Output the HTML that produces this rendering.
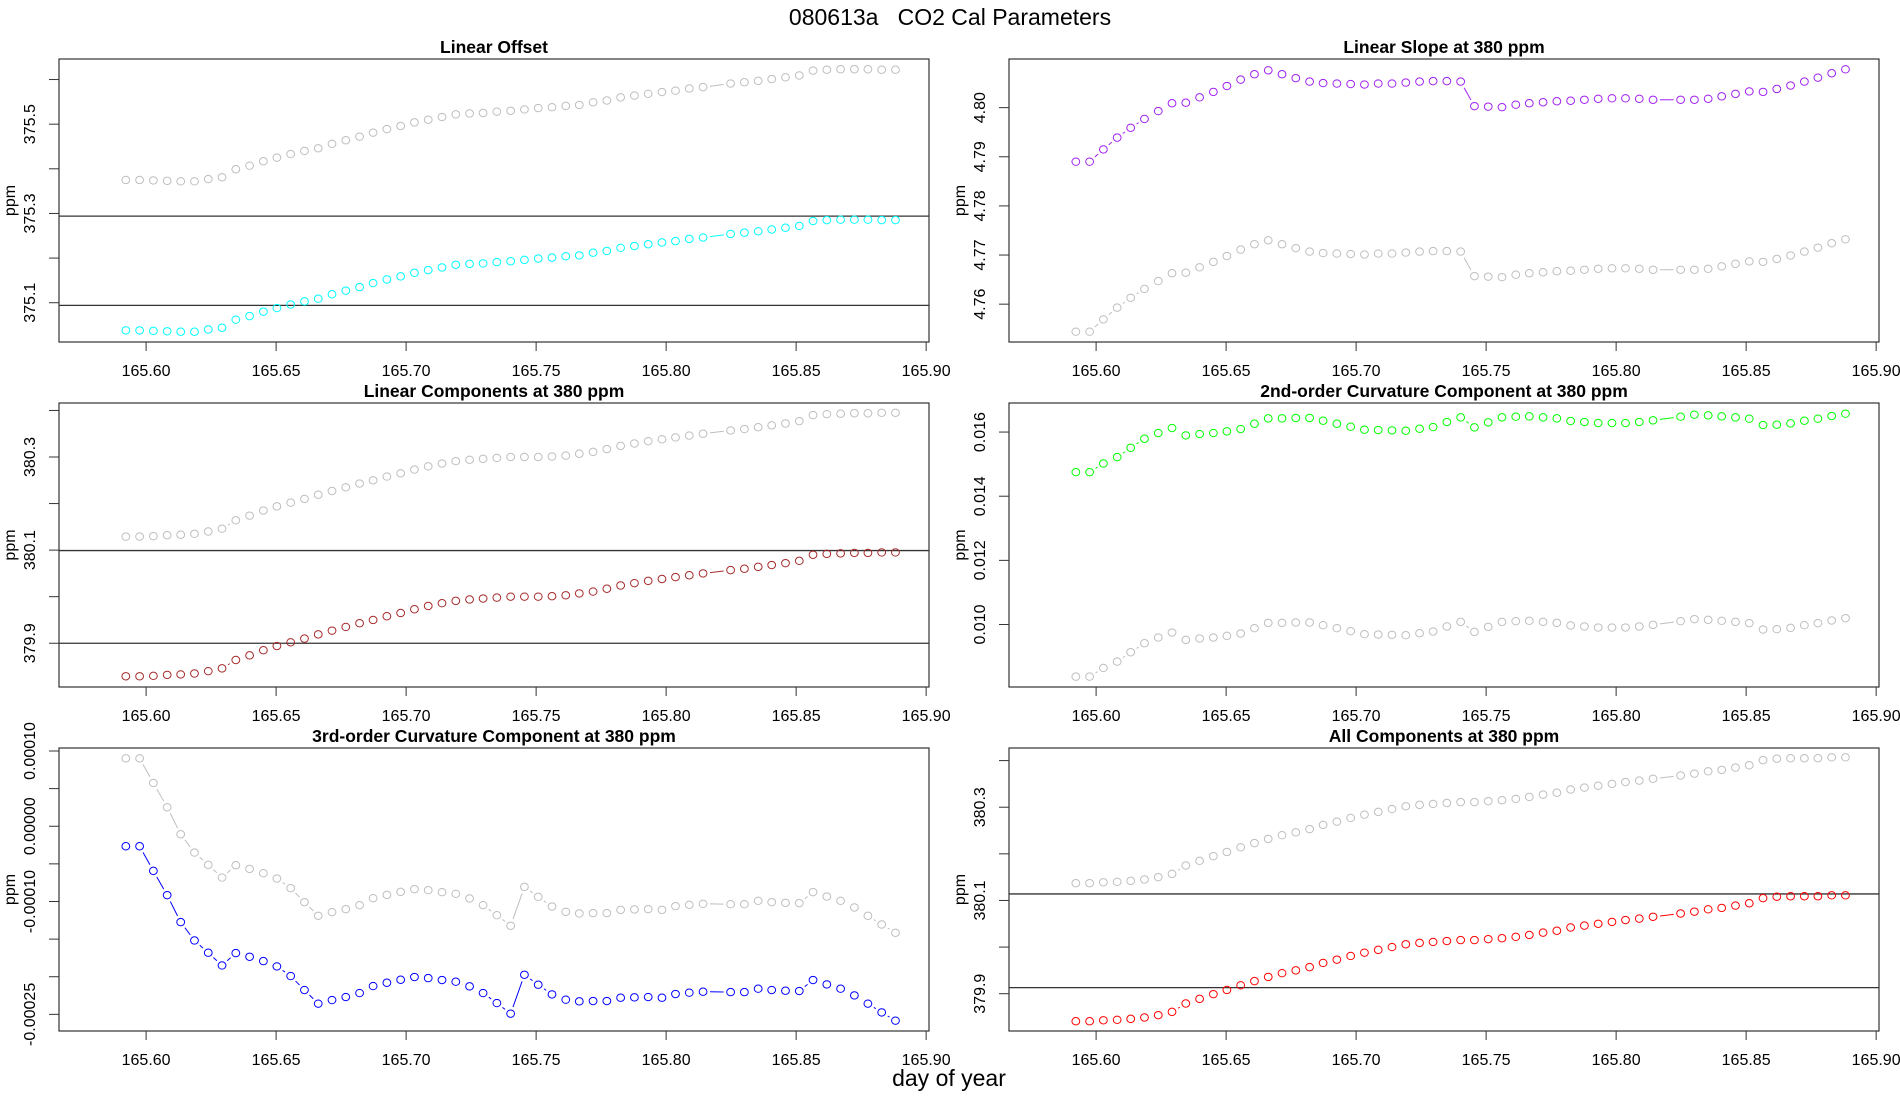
<!DOCTYPE html>
<html><head><meta charset="utf-8"><title>080613a CO2 Cal Parameters</title>
<style>html,body{margin:0;padding:0;background:#fff;}svg{display:block;font-family:"Liberation Sans",Arial,sans-serif;}</style>
</head><body>
<svg id="chart" width="1900" height="1100" viewBox="0 0 1900 1100" xmlns="http://www.w3.org/2000/svg">
<rect width="1900" height="1100" fill="#fff"/>
<text x="950" y="25" text-anchor="middle" font-size="23" xml:space="preserve">080613a   CO2 Cal Parameters</text>
<text x="949" y="1086" text-anchor="middle" font-size="23">day of year</text>
</svg>
<script>
const times = [165.5922,165.5975,165.6028,165.6081,165.6133,165.6186,165.6239,165.6292,165.6345,165.6398,165.6451,165.6503,165.6556,165.6609,165.6662,165.6715,165.6768,165.6821,165.6873,165.6926,165.6979,165.7032,165.7085,165.7138,165.7191,165.7244,165.7296,165.7349,165.7402,165.7455,165.7508,165.7561,165.7614,165.7666,165.7719,165.7772,165.7825,165.7878,165.7931,165.7984,165.8036,165.8089,165.8142,165.8248,165.8301,165.8354,165.8406,165.8459,165.8512,165.8565,165.8618,165.8671,165.8724,165.8776,165.8829,165.8882];
const xTicks = [165.60,165.65,165.70,165.75,165.80,165.85,165.90];
const xTickLabels = ["165.60","165.65","165.70","165.75","165.80","165.85","165.90"];

const offsetGray = [375.375,375.375,375.374,375.373,375.372,375.372,375.377,375.381,375.399,375.407,375.417,375.425,375.433,375.440,375.446,375.456,375.464,375.472,375.481,375.489,375.496,375.504,375.510,375.516,375.522,375.524,375.525,375.528,375.530,375.533,375.536,375.538,375.541,375.543,375.549,375.553,375.560,375.564,375.568,375.572,375.575,375.580,375.583,375.591,375.594,375.597,375.601,375.605,375.609,375.620,375.622,375.623,375.623,375.623,375.622,375.622];
const offsetValues = [375.038,375.038,375.037,375.036,375.035,375.035,375.040,375.044,375.062,375.070,375.080,375.088,375.096,375.103,375.109,375.119,375.127,375.135,375.144,375.152,375.159,375.167,375.173,375.179,375.185,375.187,375.188,375.191,375.193,375.196,375.199,375.201,375.204,375.206,375.212,375.216,375.223,375.227,375.231,375.235,375.238,375.243,375.246,375.254,375.257,375.260,375.264,375.268,375.272,375.283,375.285,375.286,375.286,375.286,375.285,375.285];
const offsetTicks = [375.1,375.2,375.3,375.4,375.5,375.6];
const offsetTickLabels = ["375.1","","375.3","","375.5",""];
const offsetRefLines = [375.294,375.094];

const slopeValues = [4.7890,4.7890,4.7915,4.7939,4.7959,4.7977,4.7993,4.8009,4.8010,4.8021,4.8032,4.8044,4.8057,4.8068,4.8076,4.8068,4.8060,4.8053,4.8050,4.8049,4.8048,4.8047,4.8049,4.8049,4.8051,4.8053,4.8054,4.8054,4.8053,4.8003,4.8002,4.8001,4.8006,4.8009,4.8011,4.8013,4.8014,4.8016,4.8018,4.8019,4.8019,4.8018,4.8016,4.8016,4.8016,4.8018,4.8023,4.8028,4.8033,4.8032,4.8038,4.8045,4.8053,4.8061,4.8070,4.8078];
const slopeGray = [4.7544,4.7544,4.7569,4.7593,4.7613,4.7631,4.7647,4.7663,4.7664,4.7675,4.7686,4.7698,4.7711,4.7722,4.7730,4.7722,4.7714,4.7707,4.7704,4.7703,4.7702,4.7701,4.7703,4.7703,4.7705,4.7707,4.7708,4.7708,4.7707,4.7657,4.7656,4.7655,4.7660,4.7663,4.7665,4.7667,4.7668,4.7670,4.7672,4.7673,4.7673,4.7672,4.7670,4.7670,4.7670,4.7672,4.7677,4.7682,4.7687,4.7686,4.7692,4.7699,4.7707,4.7715,4.7724,4.7732];
const slopeTicks = [4.76,4.77,4.78,4.79,4.80];
const slopeTickLabels = ["4.76","4.77","4.78","4.79","4.80"];

const linCompValues = [379.829,379.829,379.830,379.832,379.833,379.835,379.840,379.846,379.864,379.874,379.885,379.894,379.902,379.910,379.919,379.927,379.935,379.943,379.950,379.958,379.965,379.973,379.980,379.986,379.991,379.994,379.996,379.998,380.000,380.000,380.000,380.001,380.003,380.007,380.011,380.017,380.024,380.029,380.034,380.038,380.042,380.046,380.050,380.057,380.060,380.064,380.068,380.072,380.077,380.090,380.092,380.093,380.094,380.094,380.095,380.095];
const linCompGray = [380.129,380.129,380.130,380.132,380.133,380.135,380.140,380.146,380.164,380.174,380.185,380.194,380.202,380.210,380.219,380.227,380.235,380.243,380.250,380.258,380.265,380.273,380.280,380.286,380.291,380.294,380.296,380.298,380.300,380.300,380.300,380.301,380.303,380.307,380.311,380.317,380.324,380.329,380.334,380.338,380.342,380.346,380.350,380.357,380.360,380.364,380.368,380.372,380.377,380.390,380.392,380.393,380.394,380.394,380.395,380.395];
const linCompTicks = [379.9,380.0,380.1,380.2,380.3,380.4];
const linCompTickLabels = ["379.9","","380.1","","380.3",""];
const linCompRefLines = [380.099,379.9];

const curv2Values = [0.014750,0.014750,0.015021,0.015219,0.015510,0.015792,0.015969,0.016125,0.015896,0.015938,0.015969,0.016021,0.016094,0.016260,0.016427,0.016427,0.016438,0.016438,0.016354,0.016260,0.016167,0.016073,0.016063,0.016052,0.016042,0.016104,0.016156,0.016313,0.016458,0.016146,0.016302,0.016458,0.016479,0.016490,0.016458,0.016427,0.016344,0.016313,0.016281,0.016281,0.016281,0.016313,0.016365,0.016479,0.016542,0.016521,0.016490,0.016458,0.016417,0.016219,0.016229,0.016271,0.016354,0.016417,0.016500,0.016573];
const curv2Gray = [0.008375,0.008375,0.008646,0.008844,0.009135,0.009417,0.009594,0.009750,0.009521,0.009563,0.009594,0.009646,0.009719,0.009885,0.010052,0.010052,0.010063,0.010063,0.009979,0.009885,0.009792,0.009698,0.009688,0.009677,0.009667,0.009729,0.009781,0.009938,0.010083,0.009771,0.009927,0.010083,0.010104,0.010115,0.010083,0.010052,0.009969,0.009938,0.009906,0.009906,0.009906,0.009938,0.009990,0.010104,0.010167,0.010146,0.010115,0.010083,0.010042,0.009844,0.009854,0.009896,0.009979,0.010042,0.010125,0.010198];
const curv2Ticks = [0.010,0.012,0.014,0.016];
const curv2TickLabels = ["0.010","0.012","0.014","0.016"];

const curv3Values = [-2.66e-5,-2.66e-5,-5.93e-5,-9.16e-5,-12.74e-5,-15.18e-5,-16.81e-5,-18.50e-5,-16.86e-5,-17.35e-5,-17.92e-5,-18.63e-5,-19.91e-5,-21.77e-5,-23.58e-5,-23.10e-5,-22.70e-5,-22.17e-5,-21.24e-5,-20.80e-5,-20.40e-5,-20.04e-5,-20.18e-5,-20.44e-5,-20.66e-5,-21.28e-5,-22.17e-5,-23.50e-5,-24.91e-5,-19.74e-5,-21.06e-5,-22.35e-5,-23.05e-5,-23.27e-5,-23.23e-5,-23.23e-5,-22.79e-5,-22.74e-5,-22.70e-5,-22.79e-5,-22.30e-5,-22.12e-5,-21.99e-5,-22.04e-5,-22.04e-5,-21.59e-5,-21.77e-5,-21.86e-5,-21.90e-5,-20.44e-5,-21.02e-5,-21.59e-5,-22.48e-5,-23.58e-5,-24.74e-5,-25.84e-5];
const curv3Gray = [9.02e-5,9.02e-5,5.75e-5,2.52e-5,-1.06e-5,-3.50e-5,-5.13e-5,-6.82e-5,-5.18e-5,-5.67e-5,-6.24e-5,-6.95e-5,-8.23e-5,-10.09e-5,-11.90e-5,-11.42e-5,-11.02e-5,-10.49e-5,-9.56e-5,-9.12e-5,-8.72e-5,-8.36e-5,-8.50e-5,-8.76e-5,-8.98e-5,-9.60e-5,-10.49e-5,-11.82e-5,-13.23e-5,-8.06e-5,-9.38e-5,-10.67e-5,-11.37e-5,-11.59e-5,-11.55e-5,-11.55e-5,-11.11e-5,-11.06e-5,-11.02e-5,-11.11e-5,-10.62e-5,-10.44e-5,-10.31e-5,-10.36e-5,-10.36e-5,-9.91e-5,-10.09e-5,-10.18e-5,-10.22e-5,-8.76e-5,-9.34e-5,-9.91e-5,-10.80e-5,-11.90e-5,-13.06e-5,-14.16e-5];
const curv3Ticks = [-0.00025,-0.00020,-0.00015,-0.00010,-0.00005,0,0.00005,0.00010];
const curv3TickLabels = ["-0.00025","","","-0.00010","","0.00000","","0.00010"];

const allValues = [379.841,379.841,379.843,379.844,379.846,379.849,379.854,379.861,379.879,379.889,379.899,379.908,379.918,379.927,379.936,379.944,379.950,379.957,379.966,379.973,379.981,379.988,379.994,380.000,380.006,380.009,380.011,380.013,380.015,380.015,380.017,380.019,380.022,380.026,380.031,380.035,380.042,380.046,380.050,380.054,380.058,380.061,380.065,380.072,380.076,380.081,380.084,380.089,380.094,380.105,380.108,380.109,380.109,380.109,380.111,380.111];
const allGray = [380.137,380.137,380.139,380.140,380.142,380.145,380.150,380.157,380.175,380.185,380.195,380.204,380.214,380.223,380.232,380.240,380.246,380.253,380.262,380.269,380.277,380.284,380.290,380.296,380.302,380.305,380.307,380.309,380.311,380.311,380.313,380.315,380.318,380.322,380.327,380.331,380.338,380.342,380.346,380.350,380.354,380.357,380.361,380.368,380.372,380.377,380.380,380.385,380.390,380.401,380.404,380.405,380.405,380.405,380.407,380.407];
const allTicks = [379.9,380.0,380.1,380.2,380.3,380.4];
const allTickLabels = ["379.9","","380.1","","380.3",""];
const allRefLines = [380.114,379.913];

const panels = [
 {name:'linear-offset', title:'Linear Offset', left:59, top:59, bottom:342, ymin:375.012, ymax:375.646, gray:offsetGray, vals:offsetValues, color:'#00ffff', ticks:offsetTicks, labels:offsetTickLabels, refs:offsetRefLines},
 {name:'linear-slope', title:'Linear Slope at 380 ppm', left:1009, top:59, bottom:342, ymin:4.7523, ymax:4.8099, gray:slopeGray, vals:slopeValues, color:'#a020f0', ticks:slopeTicks, labels:slopeTickLabels, refs:[]},
 {name:'linear-components', title:'Linear Components at 380 ppm', left:59, top:403, bottom:687, ymin:379.806, ymax:380.416, gray:linCompGray, vals:linCompValues, color:'#a52a2a', ticks:linCompTicks, labels:linCompTickLabels, refs:linCompRefLines},
 {name:'second-order-curvature', title:'2nd-order Curvature Component at 380 ppm', left:1009, top:403, bottom:687, ymin:0.008052, ymax:0.016906, gray:curv2Gray, vals:curv2Values, color:'#00ff00', ticks:curv2Ticks, labels:curv2TickLabels, refs:[]},
 {name:'third-order-curvature', title:'3rd-order Curvature Component at 380 ppm', left:59, top:748, bottom:1031, ymin:-0.00027212, ymax:0.00010398, gray:curv3Gray, vals:curv3Values, color:'#0000ff', ticks:curv3Ticks, labels:curv3TickLabels, refs:[]},
 {name:'all-components', title:'All Components at 380 ppm', left:1009, top:748, bottom:1031, ymin:379.820, ymax:380.427, gray:allGray, vals:allValues, color:'#ff0000', ticks:allTicks, labels:allTickLabels, refs:allRefLines}
];

const NS = 'http://www.w3.org/2000/svg';
const svg = document.getElementById('chart');
const W = 870, XMIN = 165.5665, XMAX = 165.9011, R = 3.9;
function mk(tag, attrs, parent){ const e=document.createElementNS(NS,tag); for(const k in attrs) e.setAttribute(k,attrs[k]); (parent||svg).appendChild(e); return e; }

panels.forEach(p => {
  const g = mk('g', {});
  
  
  const xs = t => p.left + (t - XMIN) / (XMAX - XMIN) * W;
  const ys = v => p.bottom - (v - p.ymin) / (p.ymax - p.ymin) * (p.bottom - p.top);
  const right = p.left + W;

  const title = mk('text', {x:(p.left+right)/2, y:p.top-6, 'text-anchor':'middle', 'font-size':17.5, 'font-weight':'bold'}, g);
  title.textContent = p.title;
  
  

  p.refs.forEach(v => {
    const l = mk('line', {x1:p.left, x2:right, y1:ys(v), y2:ys(v), stroke:'#333', 'stroke-width':1.3}, g);
    
    
  });

  xTicks.forEach((t, i) => {
    const x = xs(t);
    mk('line', {x1:x, x2:x, y1:p.bottom, y2:p.bottom+9, stroke:'#333', 'stroke-width':1}, g);
    const tl = mk('text', {x:x, y:p.bottom+34, 'text-anchor':'middle', 'font-size':16}, g);
    tl.textContent = xTickLabels[i];
    
    
  });
  p.ticks.forEach((v, i) => {
    const y = ys(v);
    mk('line', {x1:p.left-10, x2:p.left, y1:y, y2:y, stroke:'#333', 'stroke-width':1}, g);
    if (p.labels[i]) {
      const cx = p.left - 24;
      const tl = mk('text', {x:cx, y:y, 'text-anchor':'middle', 'font-size':16, transform:'rotate(-90 '+cx+' '+y+')'}, g);
      tl.textContent = p.labels[i];
      
      
    }
  });
  const ax = p.left - 44, ay = (p.top+p.bottom)/2;
  const yl = mk('text', {x:ax, y:ay, 'text-anchor':'middle', 'font-size':16, transform:'rotate(-90 '+ax+' '+ay+')'}, g);
  yl.textContent = 'ppm';
  
  

  const drawSeries = (vals, color, nm) => {
    const sg = mk('g', {fill:'none', stroke:color, 'stroke-width':1}, g);
    
    
    for (let i = 0; i < vals.length; i++) {
      const x = xs(times[i]), y = ys(vals[i]);
      const c = mk('ellipse', {cx:x, cy:y, rx:R, ry:R*0.95}, sg);
      
      
      if (i > 0) {
        const x0 = xs(times[i-1]), y0 = ys(vals[i-1]);
        const dx = x-x0, dy = y-y0, d = Math.hypot(dx, dy), gap = 7;
        if (d > 2*gap + 2) {
          const ux = dx/d, uy = dy/d;
          mk('line', {x1:x0+ux*gap, y1:y0+uy*gap, x2:x-ux*gap, y2:y-uy*gap}, sg);
        }
      }
    }
  };
  drawSeries(p.gray, '#bebebe', 'reference-series');
  drawSeries(p.vals, p.color, 'value-series');

  const box = mk('rect', {x:p.left, y:p.top, width:W, height:p.bottom-p.top, fill:'none', stroke:'#333', 'stroke-width':1.2}, g);
  
  
});
</script>
</body></html>
